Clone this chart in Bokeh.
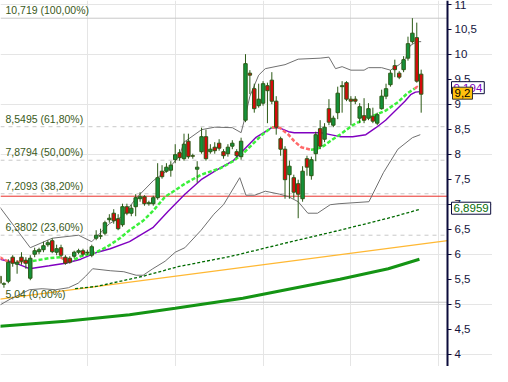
from bokeh.plotting import figure
from bokeh.models import Range1d, FixedTicker, Label, ColumnDataSource, LinearAxis
from bokeh.embed import file_html
from bokeh.resources import INLINE

# ---------------- data ----------------
opens = [5.56, 5.40, 5.46, 5.94, 5.80, 5.94, 5.88, 5.52, 6.00, 6.05,
         6.09, 6.19, 6.27, 6.04, 6.13, 5.94, 5.92, 5.96, 6.04, 6.07,
         6.04, 5.98, 6.32, 6.36, 6.42, 6.69, 6.82, 6.71, 6.59, 6.95,
         6.82, 6.95, 7.11, 7.15, 7.01, 7.01, 7.13, 7.66, 7.66, 7.68,
         7.89, 8.03, 7.91, 8.26, 7.97, 7.70, 8.05, 8.35, 8.05, 8.14,
         8.22, 8.05, 8.01, 8.16, 8.05, 7.95, 8.68, 9.62, 9.31, 8.97,
         9.02, 9.37, 9.48, 9.06, 8.31, 8.10, 7.59, 7.53, 7.41, 7.11,
         7.91, 7.57, 8.01, 8.51, 8.30, 8.91, 8.58, 8.83, 9.35, 9.43,
         9.10, 9.10, 8.72, 8.77, 8.72, 8.76, 8.62, 8.91, 9.16, 9.39,
         9.77, 9.62, 9.69, 9.92, 10.25, 10.33, 9.60]
highs = [5.61, 5.44, 5.90, 5.98, 5.88, 6.04, 5.94, 5.98, 6.13, 6.13,
         6.25, 6.28, 6.32, 6.19, 6.19, 5.98, 5.96, 6.07, 6.11, 6.11,
         6.09, 6.19, 6.48, 6.51, 6.67, 6.80, 6.90, 6.80, 7.01, 7.01,
         6.99, 7.20, 7.24, 7.18, 7.07, 7.17, 7.82, 7.78, 7.82, 7.86,
         8.20, 8.10, 8.41, 8.41, 8.01, 7.86, 8.53, 8.49, 8.20, 8.24,
         8.30, 8.10, 8.20, 8.28, 8.10, 8.33, 10.00, 9.68, 9.41, 9.41,
         9.46, 9.43, 9.64, 9.16, 8.35, 8.16, 7.87, 7.59, 7.49, 7.76,
         7.97, 7.95, 8.45, 8.68, 8.62, 9.10, 8.77, 9.35, 9.46, 9.46,
         9.16, 9.16, 9.02, 9.12, 9.02, 8.93, 8.83, 9.29, 9.41, 9.68,
         9.89, 9.66, 9.96, 10.35, 10.72, 10.63, 9.69]
lows = [5.33, 5.33, 5.42, 5.75, 5.61, 5.79, 5.71, 5.48, 5.94, 6.00,
        6.04, 6.15, 6.02, 5.98, 5.94, 5.79, 5.81, 5.92, 6.00, 5.96,
        5.98, 5.94, 6.28, 6.30, 6.38, 6.63, 6.61, 6.48, 6.55, 6.78,
        6.76, 6.76, 7.05, 6.97, 6.97, 6.97, 7.09, 7.51, 7.63, 7.55,
        7.82, 7.87, 7.87, 7.91, 7.91, 7.43, 8.01, 7.87, 8.01, 8.01,
        8.07, 7.91, 7.95, 8.10, 7.93, 7.89, 8.64, 9.20, 8.83, 8.93,
        8.97, 8.62, 9.00, 8.39, 7.97, 7.11, 7.11, 7.11, 6.72, 7.05,
        7.57, 7.49, 7.86, 8.10, 8.24, 8.58, 8.54, 8.70, 8.83, 9.06,
        8.58, 9.00, 8.62, 8.62, 8.68, 8.62, 8.58, 8.89, 9.10, 9.35,
        9.54, 9.50, 9.64, 9.87, 10.21, 9.43, 8.83]
closes = [5.42, 5.41, 5.84, 5.82, 5.84, 5.86, 5.82, 5.92, 6.07, 6.09,
          6.17, 6.23, 6.05, 6.11, 5.98, 5.82, 5.84, 6.04, 6.07, 6.00,
          6.03, 6.15, 6.38, 6.37, 6.63, 6.72, 6.67, 6.51, 6.95, 6.82,
          6.92, 7.13, 7.15, 7.01, 7.03, 7.13, 7.53, 7.55, 7.74, 7.78,
          7.99, 7.93, 8.20, 7.95, 7.96, 7.74, 8.35, 7.91, 8.10, 8.07,
          8.12, 7.97, 8.14, 8.22, 7.97, 8.26, 9.81, 9.58, 8.91, 9.10,
          9.41, 9.27, 9.06, 8.54, 8.10, 7.49, 7.76, 7.24, 7.20, 7.66,
          7.74, 7.89, 8.39, 8.16, 8.54, 8.64, 8.72, 9.22, 9.37, 9.10,
          9.06, 9.06, 8.95, 8.68, 8.91, 8.66, 8.79, 9.16, 9.31, 9.62,
          9.69, 9.54, 9.89, 10.21, 10.42, 9.46, 9.20]

# Bollinger upper band (bar index, value)
bb_up_i = [0, 7, 12, 18, 21, 25, 28, 31, 35, 38, 41, 42, 46, 49, 53, 55, 56, 57,
           59, 60.5, 65, 68, 73, 75, 76.5, 78, 80, 83, 84, 87, 89, 91, 92.5, 93.5, 95, 96]
bb_up_v = [6.95, 6.13, 6.32, 6.38, 6.25, 6.61, 6.76, 7.11, 7.47, 7.66, 7.97, 8.24, 8.49, 8.54, 8.53, 8.43, 8.77, 9.16,
           9.58, 9.71, 9.79, 9.90, 9.92, 9.94, 9.71, 9.75, 9.68, 9.68, 9.73, 9.73, 9.68, 9.79, 9.92, 10.17, 10.25, 10.25]
# Bollinger lower band
bb_lo_i = [0, 2.4, 6.8, 9.7, 12.8, 15.7, 17.9, 19.6, 21.2, 25.2, 28.3, 31.1, 32.7, 34.9, 37.7, 40.0,
           42.2, 45.9, 48.8, 51.0, 54.7, 56.1, 58.1, 60.5, 63.8, 65.8, 68.0, 70.2, 72.4, 75.3, 77.3,
           84.1, 87.4, 90.7, 94.0, 95.8]
bb_lo_v = [4.98, 5.10, 5.29, 5.31, 5.29, 5.33, 5.42, 5.56, 5.71, 5.67, 5.65, 5.58, 5.58, 5.71, 5.86, 6.04,
           6.13, 6.48, 6.80, 6.99, 7.53, 7.18, 7.18, 7.26, 7.20, 7.15, 7.05, 6.82, 6.82, 6.99, 7.01,
           7.05, 7.63, 8.10, 8.33, 8.39]
# Bollinger middle (purple)
bb_mid_i = [0, 3.1, 6.8, 11.3, 15.0, 18.5, 22.3, 25.2, 29.6, 34.9, 38.4, 42.2, 45.9, 49.4, 53.2,
            55.4, 58.3, 62.0, 63.6, 65.8, 67.1, 70.2, 73.1, 75.3, 77.5, 80.4, 83.4, 85.7, 87.9,
            90.1, 92.3, 93.6, 94.7, 95.8]
bb_mid_v = [5.90, 5.84, 5.71, 5.77, 5.82, 5.90, 6.04, 6.11, 6.25, 6.53, 6.86, 7.20, 7.49, 7.68, 7.87,
            8.07, 8.33, 8.53, 8.53, 8.45, 8.43, 8.43, 8.43, 8.39, 8.35, 8.35, 8.39, 8.53, 8.68,
            8.87, 9.06, 9.19, 9.24, 9.25]
# coloured moving average (green rising / red falling)
ma_i = [0, 1.8, 6.2, 7.3, 11.3, 13.9, 14.6, 15.7, 16.8, 18.5, 22.3, 24.5, 27.4, 29.6, 32.7, 34.9,
        37.7, 40.0, 42.2, 45.9, 50.3, 53.2, 55.4, 57.6, 59.8, 62.0, 63.8, 65.8, 67.1, 68.7, 70.9,
        72.0, 73.7, 75.9, 77.5, 80.4, 82.6, 84.8, 87.9, 90.7, 92.9, 94.5, 95.1, 95.8]
ma_v = [5.94, 5.86, 5.84, 5.86, 5.92, 5.94, 5.90, 5.86, 5.88, 5.96, 6.05, 6.15, 6.32, 6.48, 6.67, 6.86,
        7.15, 7.28, 7.41, 7.59, 7.72, 7.86, 8.01, 8.20, 8.39, 8.54, 8.53, 8.39, 8.26, 8.14, 8.09,
        8.10, 8.16, 8.30, 8.39, 8.58, 8.68, 8.76, 8.87, 9.04, 9.22, 9.31, 9.35, 9.31]
ma_dir = ["dn", "dn", "dn", "up", "up", "up", "dn", "dn", "up", "up", "up", "up", "up", "up", "up", "up",
          "up", "up", "up", "up", "up", "up", "up", "up", "up", "up", "dn", "dn", "dn", "dn", "dn",
          "up", "up", "up", "up", "up", "up", "up", "up", "up", "up", "up", "dn", "dn"]
# slower averages
ma_slow_i = [17.2, 22.3, 32.7, 40.6, 52.8, 66.4, 77.5, 88.5, 95.6]
ma_slow_v = [5.31, 5.36, 5.56, 5.75, 5.96, 6.25, 6.48, 6.72, 6.8959]
ma_long_i = [0, 15, 29.6, 40, 55.4, 66.4, 77.5, 88.5, 95.6]
ma_long_v = [4.56, 4.66, 4.79, 4.92, 5.12, 5.31, 5.50, 5.71, 5.90]
trend_i = [0, 102]
trend_v = [5.10, 6.27]

support_level = 7.16
fib_levels = [10.719, 8.5495, 7.8794, 7.2093, 6.3802, 5.04]
fib_labels = ["10,719 (100,00%)", "8,5495 (61,80%)", "7,8794 (50,00%)",
              "7,2093 (38,20%)", "6,3802 (23,60%)", "5,04 (0,00%)"]
fib_solid = [True, False, False, False, False, True]

yticks = [4, 4.5, 5, 5.5, 6, 6.5, 7, 7.5, 8, 8.5, 9, 9.5, 10, 10.5, 11]
ytick_labels = ["4", "4,5", "5", "5,5", "6", "6,5", "7", "7,5", "8", "8,5", "9", "9,5", "10", "10,5", "11"]

last_close_label = "9,2"
last_close_value = 9.22
mid_label = "9,194"
mid_label_value = 9.33
slow_label = "6,8959"
slow_label_value = 6.92

# ---------------- layout constants ----------------
X0, AXIS_X, X1 = 0.22, 102.0, 112.24
W, H = 492, 366

p = figure(width=W, height=H, output_backend="svg", toolbar_location=None,
           x_range=Range1d(X0, X1), y_range=Range1d(3.755, 11.073),
           x_axis_location=None, y_axis_location=None,
           min_border_left=0, min_border_top=0, min_border_bottom=0, min_border_right=0)
p.outline_line_color = None
p.background_fill_color = "white"
p.border_fill_color = "white"

ax = LinearAxis(fixed_location=AXIS_X, ticker=FixedTicker(ticks=yticks))
ax.major_label_overrides = {t: s for t, s in zip(yticks, ytick_labels)}
ax.axis_line_color = "#0b0b3b"
ax.axis_line_width = 2
ax.major_tick_line_color = "#0b0b3b"
ax.major_tick_out = 4
ax.major_tick_in = 0
ax.minor_tick_out = 0
ax.minor_tick_in = 0
ax.major_label_text_font = "Liberation Sans"
ax.major_label_text_font_size = "11.5px"
ax.major_label_text_color = "#14143c"
ax.major_label_standoff = 3
p.add_layout(ax, "right")

# fib lines and support line (stop at the price axis)
solid_lv = [lv for lv, s in zip(fib_levels, fib_solid) if s]
dash_lv = [lv for lv, s in zip(fib_levels, fib_solid) if not s]
p.segment(x0=[X0] * len(solid_lv), y0=solid_lv, x1=[AXIS_X] * len(solid_lv), y1=solid_lv,
          line_color="#c8c8c8", line_width=1)
p.segment(x0=[X0] * len(dash_lv), y0=dash_lv, x1=[AXIS_X] * len(dash_lv), y1=dash_lv,
          line_color="#c8c8c8", line_width=1, line_dash="4 4")
p.segment(x0=[X0], y0=[support_level], x1=[AXIS_X], y1=[support_level],
          line_color="#e8302a", line_width=1)

# indicators
p.line(ma_long_i, ma_long_v, line_color="#149414", line_width=3)
p.line(trend_i, trend_v, line_color="#ffb833", line_width=1.2)
p.line(ma_slow_i, ma_slow_v, line_color="#006a00", line_width=1.3, line_dash="3 2")
p.line(bb_up_i, bb_up_v, line_color="#707070", line_width=1)
p.line(bb_lo_i, bb_lo_v, line_color="#707070", line_width=1)
p.line(bb_mid_i, bb_mid_v, line_color="#8000c0", line_width=1.4)

runs = []
for k in range(1, len(ma_i)):
    d = ma_dir[k]
    if runs and runs[-1][0] == d:
        runs[-1][1].append(k)
    else:
        runs.append([d, [k - 1, k]])
for d, ids in runs:
    p.line([ma_i[j] for j in ids], [ma_v[j] for j in ids],
           line_color="#3cf03c" if d == "up" else "#ff6a6a", line_width=2.5, line_dash="4 2")

# candles
idx = list(range(len(opens)))
inc = [c >= o for o, c in zip(opens, closes)]
src = ColumnDataSource(dict(
    x=idx,
    top=[max(o, c) for o, c in zip(opens, closes)],
    bottom=[min(o, c) for o, c in zip(opens, closes)],
    high=highs, low=lows,
    color=["#14923a" if u else "#d40b0b" for u in inc]))
p.segment(x0="x", y0="high", x1="x", y1="low", source=src, line_color="#2c5a16", line_width=1)
p.vbar(x="x", width=0.78, top="top", bottom="bottom", fill_color="color",
       line_color="#2c5a16", line_width=1, source=src)

# fib labels
for lev, txt in zip(fib_levels, fib_labels):
    p.add_layout(Label(x=5, x_units="screen", y=lev, y_units="data", text=txt,
                       text_font="Liberation Sans", text_font_size="10.5px",
                       text_color="#3a5a1a", text_baseline="bottom", y_offset=2))

# right side value labels
p.add_layout(Label(x=451, x_units="screen", y=slow_label_value, text=slow_label,
                   text_font="Liberation Sans", text_font_size="11.5px", text_color="#0a6e0a",
                   text_baseline="middle", background_fill_color="white",
                   border_line_color="#0b0b3b", border_line_width=1, padding=2))
p.add_layout(Label(x=451, x_units="screen", y=mid_label_value, text=mid_label,
                   text_font="Liberation Sans", text_font_size="11.5px", text_color="#8000c0",
                   text_baseline="middle", background_fill_color="white",
                   border_line_color="#0b0b3b", border_line_width=1, padding=2))
p.add_layout(Label(x=452, x_units="screen", y=last_close_value, text=last_close_label,
                   text_font="Liberation Sans", text_font_size="11.5px", text_color="#000000",
                   text_baseline="middle", background_fill_color="#ffc20e",
                   border_line_color="#333333", border_line_width=1, padding=2))

open("out.html", "w").write(file_html(p, INLINE))
